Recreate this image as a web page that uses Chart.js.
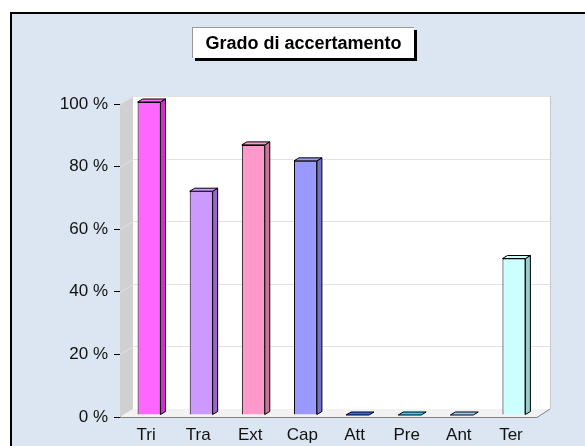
<!DOCTYPE html>
<html>
<head>
<meta charset="utf-8">
<script src="https://cdn.jsdelivr.net/npm/chart.js@4"></script>
<style>
  body { margin: 0; background: #fff; width: 585px; height: 446px; overflow: hidden; position: relative; font-family: Arial, "Liberation Sans", sans-serif; }
  #cornice { position: absolute; left: 10px; top: 12px; width: 600px; height: 460px; background: #dce6f2; border-top: 2px solid #000; border-left: 2px solid #000; box-sizing: border-box; }
  #titolo { position: absolute; left: 192px; top: 27px; width: 222px; height: 31px; background: #fff; border-top: 1px solid #999; border-left: 1px solid #999; box-shadow: 3px 3px 0 #000; text-align: center; font-weight: bold; font-size: 18px; line-height: 31px; color: #000; box-sizing: border-box; }
  #grafico { position: absolute; left: 0; top: 0; }
</style>
</head>
<body>
<div id="cornice"></div>
<canvas id="grafico" width="585" height="446"></canvas>
<div id="titolo">Grado di accertamento</div>
<script>
// Dati
const categorie = ['Tri', 'Tra', 'Ext', 'Cap', 'Att', 'Pre', 'Ant', 'Ter'];
const valori = [100, 71.5, 86.3, 81.2, 0, 0, 0, 50];
const tacche = [0, 20, 40, 60, 80, 100];

// Colori delle barre (faccia frontale e lato)
const colori = ['#ff66ff', '#cc99ff', '#ff99cc', '#9999ff', '#3366ff', '#33ccff', '#99ccff', '#ccffff'];
const coloriLato = ['#cc33cc', '#9966cc', '#cc7399', '#7373cc', '#2244bb', '#2299cc', '#7399cc', '#99cccc'];

// profondita' della scena 3D
const profX = 13, profY = -8;
// spostamento e spessore delle barre
const barX = 3, barY = -2, latoX = 5, latoY = -3;

// Pareti e pavimento stile Excel 3D
const pareti = {
  id: 'pareti',
  beforeDatasetsDraw(chart) {
    const { ctx, chartArea: a, scales } = chart;
    ctx.save();
    // parete di fondo
    ctx.fillStyle = '#ffffff';
    ctx.fillRect(a.left + profX, a.top + profY, a.right - a.left, a.bottom - a.top);
    // parete laterale
    ctx.fillStyle = '#d0d0d0';
    ctx.beginPath();
    ctx.moveTo(a.left, a.top);
    ctx.lineTo(a.left + profX, a.top + profY);
    ctx.lineTo(a.left + profX, a.bottom + profY);
    ctx.lineTo(a.left, a.bottom);
    ctx.closePath();
    ctx.fill();
    // pavimento
    ctx.fillStyle = '#f2f2f2';
    ctx.beginPath();
    ctx.moveTo(a.left, a.bottom);
    ctx.lineTo(a.left + profX, a.bottom + profY);
    ctx.lineTo(a.right + profX, a.bottom + profY);
    ctx.lineTo(a.right, a.bottom);
    ctx.closePath();
    ctx.fill();
    // griglia
    ctx.strokeStyle = '#e2e2e2';
    ctx.lineWidth = 1;
    tacche.forEach(t => {
      if (t === 0) return;
      const y = Math.round(scales.y.getPixelForValue(t)) + 0.5;
      ctx.beginPath();
      ctx.moveTo(a.left, y);
      ctx.lineTo(a.left + profX, y + profY);
      ctx.lineTo(a.right + profX, y + profY);
      ctx.stroke();
    });
    // bordo destro della parete di fondo
    ctx.strokeStyle = '#c8c8c8';
    ctx.beginPath();
    ctx.moveTo(a.right + profX + 0.5, a.top + profY);
    ctx.lineTo(a.right + profX + 0.5, a.bottom + profY);
    ctx.stroke();
    // bordo del pavimento
    ctx.strokeStyle = '#808080';
    ctx.beginPath();
    ctx.moveTo(a.left, a.bottom + 0.5);
    ctx.lineTo(a.right, a.bottom + 0.5);
    ctx.lineTo(a.right + profX, a.bottom + profY);
    ctx.stroke();
    ctx.restore();

    // barre spostate in profondita'
    ctx.save();
    ctx.translate(barX, barY);
  },
  afterDatasetsDraw(chart) {
    const { ctx } = chart;
    const meta = chart.getDatasetMeta(0);
    ctx.lineWidth = 1;
    ctx.strokeStyle = '#000';
    meta.data.forEach((bar, i) => {
      const l = bar.x - bar.width / 2, r = bar.x + bar.width / 2;
      const top = bar.y, base = bar.base;
      // lato
      if (base - top > 0.5) {
        ctx.fillStyle = coloriLato[i];
        ctx.beginPath();
        ctx.moveTo(r, top);
        ctx.lineTo(r + latoX, top + latoY);
        ctx.lineTo(r + latoX, base + latoY);
        ctx.lineTo(r, base);
        ctx.closePath();
        ctx.fill();
        ctx.stroke();
      }
      // cima
      ctx.fillStyle = colori[i];
      ctx.beginPath();
      ctx.moveTo(l, top);
      ctx.lineTo(l + latoX, top + latoY);
      ctx.lineTo(r + latoX, top + latoY);
      ctx.lineTo(r, top);
      ctx.closePath();
      ctx.fill();
      ctx.stroke();
    });
    ctx.restore();
  }
};

new Chart(document.getElementById('grafico'), {
  type: 'bar',
  data: {
    labels: categorie,
    datasets: [{
      data: valori,
      backgroundColor: colori,
      borderColor: '#000',
      borderWidth: 1,
      barPercentage: 0.44,
      categoryPercentage: 1
    }]
  },
  options: {
    responsive: false,
    animation: false,
    events: [],
    layout: { padding: { left: 0, right: 48, top: 104, bottom: 0 } },
    plugins: {
      legend: { display: false },
      tooltip: { enabled: false },
      title: { display: false }
    },
    scales: {
      x: {
        grid: { display: false },
        border: { display: false },
        ticks: { color: '#111', font: { family: 'Arial', size: 17 }, padding: 0 },
        afterFit: s => { s.height = 29; }
      },
      y: {
        min: 0,
        max: 100,
        afterBuildTicks: s => { s.ticks = tacche.map(v => ({ value: v })); },
        ticks: { color: '#111', font: { family: 'Arial', size: 17 }, padding: 6, callback: v => v + ' %' },
        grid: { drawOnChartArea: false, drawTicks: true, tickLength: 6, color: '#000' },
        border: { color: '#000', width: 1 },
        afterFit: s => { s.width = 120; }
      }
    }
  },
  plugins: [pareti]
});
</script>
</body>
</html>
